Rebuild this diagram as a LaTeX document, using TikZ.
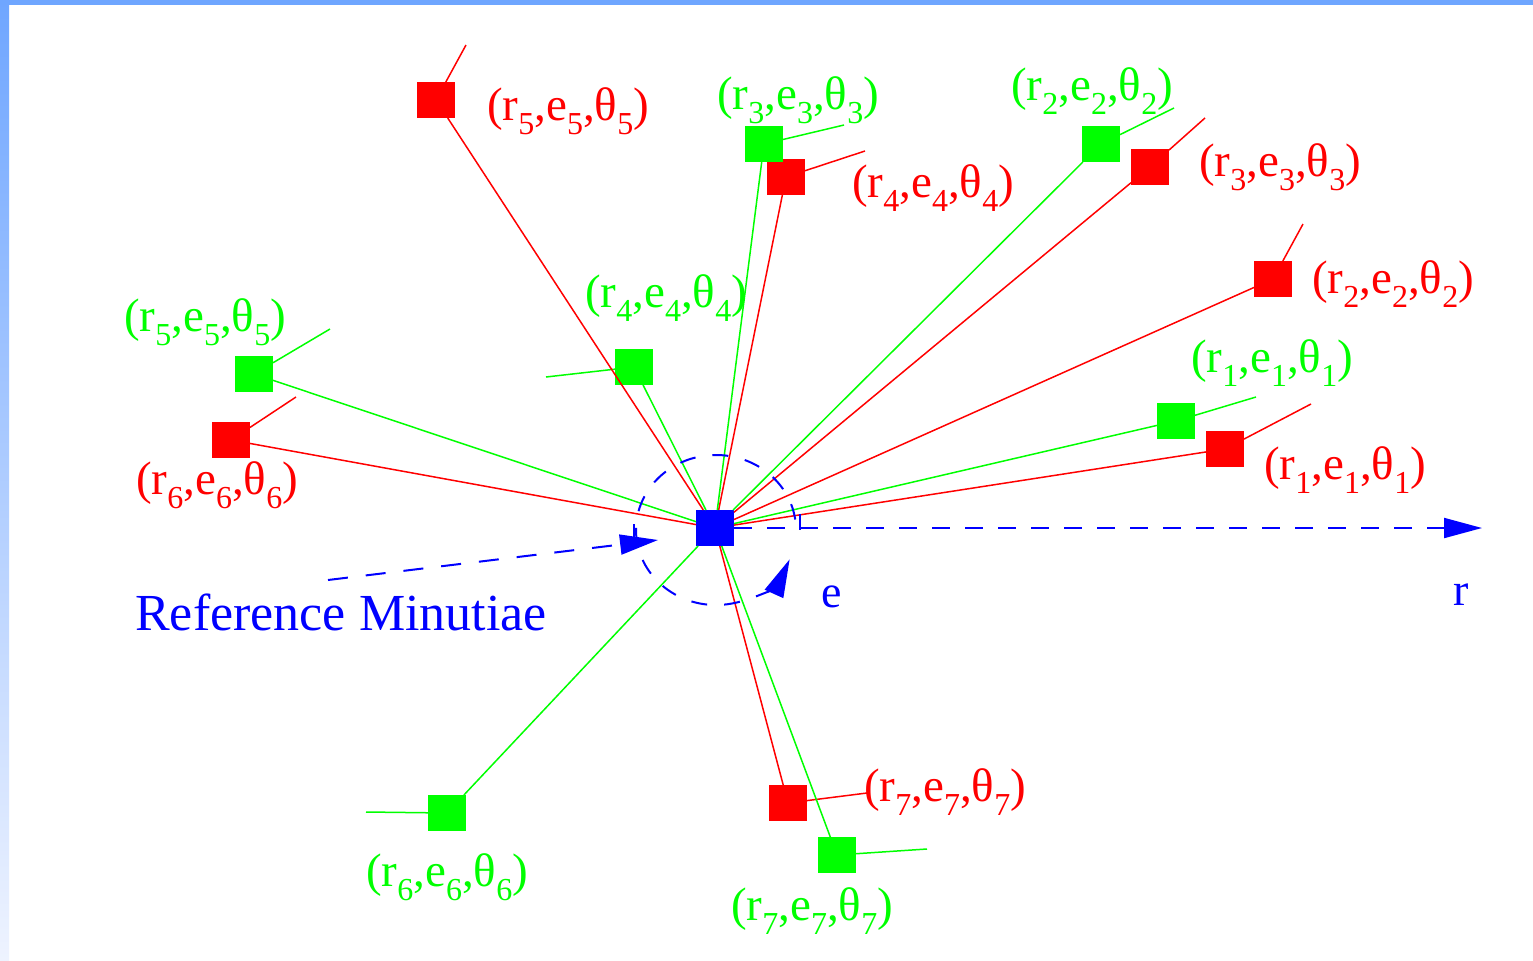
\documentclass[tikz,border=0pt]{standalone}
\usepackage{fontspec}
\setmainfont{Liberation Serif}
\usetikzlibrary{arrows.meta}
\definecolor{frameblue}{RGB}{111,166,255}
\definecolor{framelight}{RGB}{238,243,255}
\definecolor{mred}{RGB}{255,0,0}
\definecolor{mgreen}{RGB}{0,255,0}
\definecolor{mblue}{RGB}{0,0,255}
\newcommand{\lowsub}[1]{\raisebox{-0.3em}{\fontsize{16}{16}\selectfont #1}}
\newcommand{\trip}[1]{(r\lowsub{#1},e\lowsub{#1},θ\lowsub{#1})}
\tikzset{
  sqbase/.style={rectangle, minimum width=19pt, minimum height=18pt, inner sep=0pt, outer sep=0pt},
  sqr/.style={sqbase, fill=mred},
  sqg/.style={sqbase, fill=mgreen},
  sqb/.style={sqbase, fill=mblue},
  lr/.style={draw=mred, line width=0.75pt},
  lg/.style={draw=mgreen, line width=0.75pt},
  labr/.style={text=mred, font=\fontsize{23.5}{28}\selectfont, inner sep=0pt},
  labg/.style={text=mgreen, font=\fontsize{23.5}{28}\selectfont, inner sep=0pt},
  labb/.style={text=mblue, inner sep=0pt},
  dsh/.style={draw=mblue, line width=1pt, dash pattern=on 9pt off 7.5pt},
  tipb/.style={-{Triangle[length=19pt,width=10pt]}}
}
\begin{document}
\begin{tikzpicture}[x=0.5pt,y=-0.5pt]
\useasboundingbox (0,0) rectangle (1533,960);
% frame
\fill[white] (0,0) rectangle (1533,960);
\shade[top color=frameblue, bottom color=framelight] (0,0) rectangle (9,960);
\fill[frameblue] (0,0) rectangle (1533,5);

% reference minutia
\node[sqb] (B) at (715,528) {};

% red squares
\node[sqr] (r1) at (1225,449) {};
\node[sqr] (r2) at (1273,279) {};
\node[sqr] (r3) at (1150,167) {};
\node[sqr] (r4) at (786,177) {};
\node[sqr] (r5) at (436,100) {};
\node[sqr] (r6) at (231,440) {};
\node[sqr] (r7) at (788,803) {};

% green squares
\node[sqg] (g1) at (1176,421) {};
\node[sqg] (g2) at (1101,144) {};
\node[sqg] (g3) at (764,144) {};
\node[sqg] (g4) at (634,367) {};
\node[sqg] (g5) at (254,374) {};
\node[sqg] (g6) at (447,813) {};
\node[sqg] (g7) at (837,855) {};

% tails (direction markers)
\coordinate (tr1) at (1311,404);
\coordinate (tr2) at (1303,224);
\coordinate (tr3) at (1205,118);
\coordinate (tr4) at (865,151);
\coordinate (tr5) at (466,45);
\coordinate (tr6) at (296,397);
\coordinate (tr7) at (867,793);
\coordinate (tg1) at (1256,397);
\coordinate (tg2) at (1174,108);
\coordinate (tg3) at (844,125);
\coordinate (tg4) at (546,377);
\coordinate (tg5) at (330,329);
\coordinate (tg6) at (366,812);
\coordinate (tg7) at (927,849);

\foreach \i in {1,...,7} {
  \draw[lr] (r\i) -- (tr\i);
  \draw[lg] (g\i) -- (tg\i);
}

% connectors from reference minutia
\foreach \i in {1,...,7} {
  \draw[lr] (B) -- (r\i);
}
\foreach \i in {1,...,7} {
  \draw[lg] (B) -- (g\i);
}

% r axis
\coordinate (rtip) at (1482,528);
\draw[dsh, tipb] (B) -- (rtip);

% angle ellipse
\coordinate (ec) at (716,530);
\draw[dsh, dash pattern=on 8pt off 8.5pt, tipb]
  ([shift={(8:40pt and 37.5pt)}]ec) arc[start angle=8, end angle=337, x radius=40pt, y radius=37.5pt];
\draw[mblue, line width=0.8pt] (800,514) -- (800,530);
\draw[mblue, line width=0.8pt] (634,524) -- (634,538);

% reference label arrow
\coordinate (refstart) at (328,580);
\coordinate (reftip) at (658,540);
\draw[dsh, dash pattern=on 10pt off 9pt, tipb] (refstart) -- (reftip);

% labels
\node[labb, font=\fontsize{26}{31}\selectfont, anchor=base] (reflab) at (341,630) {Reference Minutiae};
\node[labb, font=\fontsize{23}{28}\selectfont, anchor=base] (elab) at (832,607) {e};
\node[labb, font=\fontsize{23}{28}\selectfont, anchor=base] (rlab) at (1461,605) {r};

\node[labr] (lr1) at (1345,470) {\trip{1}};
\node[labr] (lr2) at (1393,284) {\trip{2}};
\node[labr] (lr3) at (1280,167) {\trip{3}};
\node[labr] (lr4) at (933,188) {\trip{4}};
\node[labr] (lr5) at (568,111) {\trip{5}};
\node[labr] (lr6) at (217,485) {\trip{6}};
\node[labr] (lr7) at (945,792) {\trip{7}};

\node[labg] (lg1) at (1272,363) {\trip{1}};
\node[labg] (lg2) at (1092,91) {\trip{2}};
\node[labg] (lg3) at (798,100) {\trip{3}};
\node[labg] (lg4) at (666,298) {\trip{4}};
\node[labg] (lg5) at (205,322) {\trip{5}};
\node[labg] (lg6) at (447,877) {\trip{6}};
\node[labg] (lg7) at (812,911) {\trip{7}};
\end{tikzpicture}
\end{document}
